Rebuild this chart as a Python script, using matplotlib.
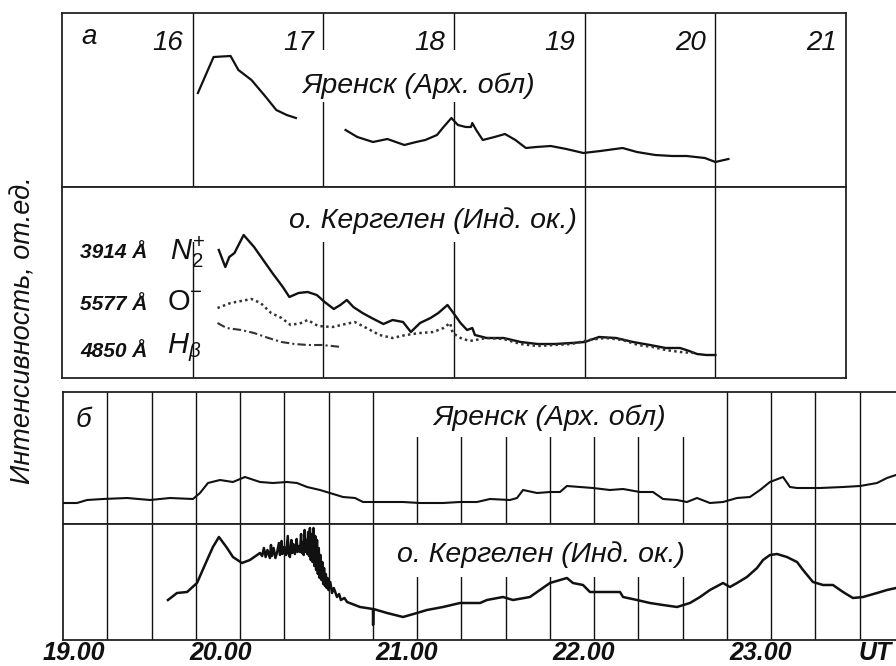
import matplotlib
matplotlib.use('Agg')
import matplotlib.pyplot as plt
from matplotlib.patches import Rectangle
import matplotlib.transforms as mtrans

plt.rcParams['font.family'] = ['Liberation Sans', 'DejaVu Sans']
plt.rcParams['mathtext.fontset'] = 'custom'
plt.rcParams['mathtext.rm'] = 'Liberation Sans'
plt.rcParams['mathtext.it'] = 'Liberation Sans:italic'
plt.rcParams['mathtext.bf'] = 'Liberation Sans:bold'

# ---------------- data (relative intensity, arbitrary units) ----------------
# panel a, Yarensk (hours UT)
yar_a_t1 = [16.04, 16.10, 16.16, 16.29, 16.35, 16.45, 16.56, 16.64, 16.72, 16.79]
yar_a_y1 = [94, 112, 130, 131, 117, 107, 90, 77, 72, 69]
yar_a_t2 = [17.17, 17.26, 17.38, 17.49, 17.62, 17.71, 17.78, 17.87, 17.92, 17.98,
            18.03, 18.09, 18.13, 18.14, 18.17, 18.22, 18.31, 18.39, 18.47, 18.55,
            18.63, 18.74, 18.86, 18.99, 19.12, 19.29, 19.40, 19.54, 19.67, 19.78,
            19.92, 20.00, 20.10]
yar_a_y2 = [57, 50, 45, 48, 42, 45, 47, 52, 60, 69,
            62, 60, 60, 64, 57, 47, 50, 53, 47, 39,
            40, 41, 38, 34, 36, 39, 35, 32, 31, 31,
            29, 25, 28]

# panel a, Kerguelen: N2+ 3914 A
n2_t = [16.20, 16.25, 16.28, 16.32, 16.39, 16.47, 16.54, 16.61, 16.69, 16.74,
        16.81, 16.88, 16.95, 17.01, 17.08, 17.13, 17.18, 17.23, 17.30, 17.37,
        17.46, 17.53, 17.61, 17.67, 17.74, 17.82, 17.88, 17.95, 17.99, 18.05,
        18.10, 18.14, 18.16, 18.25, 18.38, 18.51, 18.64, 18.77, 18.90, 19.00,
        19.11, 19.24, 19.37, 19.50, 19.62, 19.73, 19.80, 19.86, 19.93, 20.00]
n2_y = [128, 111, 121, 125, 143, 131, 118, 105, 91, 81,
        85, 86, 83, 76, 69, 73, 78, 71, 65, 60,
        54, 58, 56, 46, 55, 60, 65, 73, 66, 55,
        48, 50, 43, 40, 40, 36, 34, 34, 35, 36,
        41, 40, 36, 33, 30, 30, 27, 24, 23, 23]
# O 5577 A
o_t = [16.19, 16.29, 16.45, 16.52, 16.60, 16.68, 16.75, 16.83, 16.88, 16.96,
       17.07, 17.17, 17.24, 17.33, 17.43, 17.53, 17.63, 17.74, 17.84, 17.92,
       17.97, 17.99, 18.05, 18.12, 18.25, 18.38, 18.51, 18.64, 18.77, 18.90,
       19.03, 19.16, 19.29, 19.41, 19.52, 19.62, 19.73, 19.84]
o_y = [70, 75, 79, 75, 65, 60, 53, 55, 58, 52,
       51, 54, 56, 50, 43, 40, 43, 45, 46, 50,
       55, 45, 40, 37, 40, 39, 34, 32, 33, 34,
       38, 40, 38, 33, 31, 28, 26, 25]
# H-beta 4850 A
hb_t = [16.19, 16.26, 16.37, 16.47, 16.58, 16.68, 16.78, 16.88, 16.99, 17.14]
hb_y = [55, 50, 48, 45, 40, 36, 34, 33, 33, 31]

# panel b, Yarensk
yar_b_t = [19.000, 19.079, 19.136, 19.226, 19.362, 19.492, 19.605, 19.734, 19.774, 19.819,
           19.887, 19.960, 20.028, 20.113, 20.186, 20.266, 20.322, 20.379, 20.452, 20.508,
           20.582, 20.650, 20.695, 20.791, 20.921, 21.017, 21.147, 21.243, 21.339, 21.412,
           21.525, 21.565, 21.599, 21.678, 21.751, 21.808, 21.847, 21.921, 21.994, 22.090,
           22.164, 22.260, 22.333, 22.390, 22.469, 22.525, 22.582, 22.655, 22.729, 22.808,
           22.881, 22.938, 22.994, 23.068, 23.107, 23.147, 23.277, 23.407, 23.503, 23.599,
           23.655, 23.706]
yar_b_y = [21, 21, 24, 25, 26, 24, 26, 25, 31, 41,
           44, 42, 47, 42, 41, 42, 41, 37, 34, 31,
           27, 26, 22, 22, 22, 21, 21, 22, 22, 25,
           24, 26, 34, 31, 32, 32, 38, 37, 36, 34,
           35, 32, 32, 25, 24, 22, 26, 21, 22, 26,
           27, 34, 42, 47, 37, 36, 36, 37, 38, 41,
           46, 49]

# panel b, Kerguelen
ker_b_t = [19.593, 19.644, 19.701, 19.757, 19.814, 19.847, 19.881, 19.927, 19.960, 20.011,
           20.056, 20.113, 20.125, 20.135, 20.145, 20.155, 20.169, 20.175, 20.180, 20.190,
           20.200, 20.210, 20.220, 20.226, 20.235, 20.240, 20.250, 20.260, 20.270, 20.275,
           20.282, 20.290, 20.295, 20.300, 20.310, 20.320, 20.325, 20.330, 20.339, 20.345,
           20.350, 20.355, 20.360, 20.365, 20.370, 20.375, 20.380, 20.385, 20.390, 20.395,
           20.400, 20.405, 20.410, 20.415, 20.420, 20.425, 20.430, 20.435, 20.440, 20.445,
           20.450, 20.455, 20.460, 20.465, 20.470, 20.475, 20.480, 20.485, 20.490, 20.495,
           20.500, 20.510, 20.520, 20.530, 20.548, 20.560, 20.570, 20.590, 20.605, 20.678,
           20.751, 20.752, 20.754, 20.831, 20.921, 21.000, 21.056, 21.147, 21.243, 21.356,
           21.395, 21.486, 21.542, 21.638, 21.678, 21.751, 21.808, 21.847, 21.881, 21.938,
           21.977, 22.051, 22.147, 22.164, 22.243, 22.316, 22.390, 22.469, 22.542, 22.599,
           22.655, 22.729, 22.768, 22.808, 22.864, 22.921, 22.955, 22.994, 23.034, 23.090,
           23.147, 23.181, 23.237, 23.294, 23.350, 23.407, 23.463, 23.520, 23.599, 23.655,
           23.706]
ker_b_y = [40, 47, 48, 57, 80, 93, 103, 92, 83, 77,
           80, 87, 84, 92, 83, 90, 82, 95, 84, 92,
           82, 88, 97, 85, 99, 86, 93, 85, 104, 86,
           83, 100, 87, 96, 86, 101, 88, 94, 88, 106,
           87, 98, 85, 110, 88, 100, 86, 108, 84, 112,
           80, 106, 78, 112, 74, 104, 70, 100, 66, 92,
           62, 85, 60, 78, 56, 72, 54, 66, 52, 62,
           50, 58, 47, 52, 43, 46, 40, 42, 38, 33,
           31, 15, 31, 27, 23, 27, 30, 33, 37, 37,
           40, 43, 40, 43, 48, 57, 60, 62, 57, 55,
           48, 48, 48, 43, 40, 37, 35, 33, 37, 43,
           50, 57, 53, 57, 63, 72, 80, 85, 86, 83,
           78, 70, 58, 55, 55, 48, 42, 43, 47, 50,
           52]

# axes text
a_hours = [16, 17, 18, 19, 20, 21]
a_grid = [16, 17, 18, 19, 20]
b_grid = [19.25, 19.5, 19.75, 20.0, 20.25, 20.5, 20.75, 21.0, 21.25, 21.5, 21.75,
          22.0, 22.25, 22.5, 22.75, 23.0, 23.25, 23.5, 23.75]
b_labels = ['19.00', '20.00', '21.00', '22.00', '23.00', 'UT']
b_label_pos = [19.06, 19.89, 20.94, 21.94, 22.94, 23.59]
station1 = 'Яренск (Арх. обл)'
station2 = 'о. Кергелен (Инд. ок.)'
ylabel = 'Интенсивность, от.ед.'

# ---------------- layout ----------------
W, H = 896, 666
fig = plt.figure(figsize=(8.96, 6.66), dpi=100)


def px_axes(x0, y0, x1, y1):
    ax = fig.add_axes([x0 / W, 1 - y1 / H, (x1 - x0) / W, (y1 - y0) / H])
    ax.set_xticks([])
    ax.set_yticks([])
    for s in ax.spines.values():
        s.set_linewidth(1.3)
        s.set_color('#222222')
    return ax


ax_at = px_axes(62, 13, 846, 187)
ax_ab = px_axes(62, 187, 846, 378)
ax_bt = px_axes(63, 392, 948, 524)
ax_bb = px_axes(63, 524, 948, 640)

for ax in (ax_at, ax_ab):
    ax.set_xlim(15, 21)
    for h in a_grid:
        ax.axvline(h, color='#111111', lw=1.0, zorder=1)
ax_at.set_ylim(0, 174)
ax_ab.set_ylim(0, 191)
for ax in (ax_bt, ax_bb):
    ax.set_xlim(19, 24)
    for h in b_grid:
        ax.axvline(h, color='#111111', lw=1.0, zorder=1)
ax_bt.set_ylim(0, 132)
ax_bb.set_ylim(0, 116)

# white boxes behind station names (grid lines hidden there)
ax_at.add_patch(Rectangle((16.71, 85), 2.05, 52, facecolor='white', edgecolor='none', zorder=2))
ax_ab.add_patch(Rectangle((15.95, 136), 2.98, 55, facecolor='white', edgecolor='none', zorder=2))
ax_bt.add_patch(Rectangle((20.96, 87), 1.58, 45, facecolor='white', edgecolor='none', zorder=2))
ax_bb.add_patch(Rectangle((20.90, 63), 1.70, 53, facecolor='white', edgecolor='none', zorder=2))

# curves
ax_at.plot(yar_a_t1, yar_a_y1, color='#111111', lw=1.6, zorder=3)
ax_at.plot(yar_a_t2, yar_a_y2, color='#111111', lw=1.6, zorder=3)
ax_ab.plot(n2_t, n2_y, color='#111111', lw=1.7, zorder=3)
ax_ab.plot(o_t, o_y, color='#333333', lw=1.8, ls=(0, (1, 1.3)), zorder=3)
ax_ab.plot(hb_t, hb_y, color='#333333', lw=1.5, ls=(0, (4, 1.5, 1, 1.5)), zorder=3)
ax_bt.plot(yar_b_t, yar_b_y, color='#111111', lw=1.5, zorder=3)
ax_bb.plot(ker_b_t, ker_b_y, color='#111111', lw=1.8, zorder=3)

# texts
tkw = dict(style='italic', color='#111111', zorder=4)
for h in a_hours:
    ax_at.text(h - 0.07, 137, str(h), ha='right', va='baseline', fontsize=20, **tkw)
ax_at.text(15.145, 143, 'а', ha='left', va='baseline', fontsize=20, **tkw)
ax_bt.text(19.073, 97, 'б', ha='left', va='baseline', fontsize=20, **tkw)

ax_at.text(17.73, 94, station1, ha='center', va='baseline', fontsize=20.5, **tkw)
ax_ab.text(17.84, 150, station2, ha='center', va='baseline', fontsize=20.5, **tkw)
ax_bt.text(21.75, 99, station1, ha='center', va='baseline', fontsize=20.5, **tkw)
ax_bb.text(21.70, 78, station2, ha='center', va='baseline', fontsize=20.5, **tkw)

skw = dict(style='italic', weight='bold', fontsize=15, ha='left', va='baseline', color='#111111', zorder=4)
ax_ab.text(15.14, 120, '3914 Å', **skw)
ax_ab.text(15.14, 68, '5577 Å', **skw)
ax_ab.text(15.14, 21, '4850 Å', **skw)
mkw = dict(fontsize=21, ha='left', va='baseline', color='#111111', zorder=4)
ax_ab.text(15.83, 118, r'$N_2^{+}$', **mkw)
ax_ab.text(15.80, 68, r'$\mathrm{O}^{-}$', **mkw)
ax_ab.text(15.80, 25, r'$H_{\beta}$', **mkw)

btrans = mtrans.blended_transform_factory(ax_bb.transData, fig.transFigure)
for lab, pos in zip(b_labels, b_label_pos):
    ax_bb.text(pos, 1 - 665 / H, lab, transform=btrans, ha='center', va='bottom', fontsize=18,
               style='italic', weight='bold', color='#111111', clip_on=False)

fig.text(24 / W, 1 - 330 / H, ylabel, rotation=90, ha='center', va='center',
         fontsize=19.5, style='italic', color='#111111')

fig.savefig('out.png', dpi=100)
